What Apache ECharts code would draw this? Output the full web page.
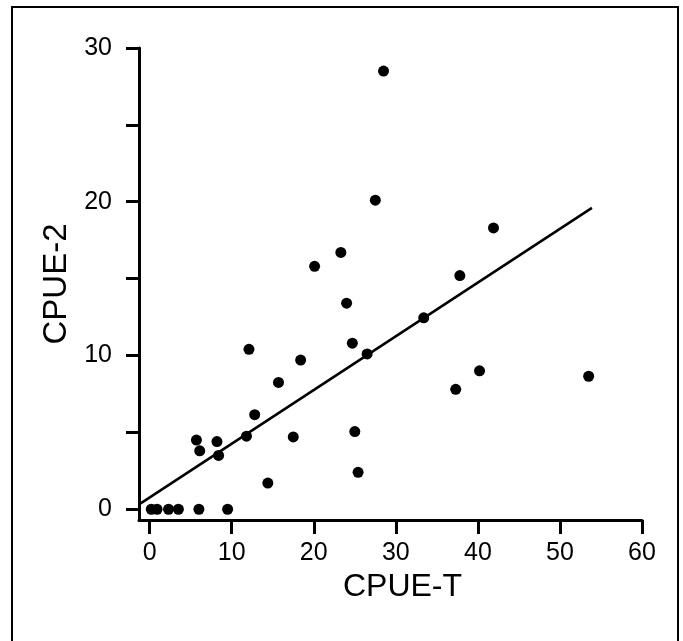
<!DOCTYPE html>
<html>
<head>
<meta charset="utf-8">
<script src="https://cdn.jsdelivr.net/npm/echarts@6/dist/echarts.min.js"></script>
<style>html,body{margin:0;padding:0;background:#fff}#c{width:683px;height:641px}</style>
</head>
<body>
<div id="c"></div>
<script>
const cpueT = [0.2, 0.9, 2.3, 3.5, 6.0, 9.5, 5.7, 6.1, 8.2, 8.4, 11.8, 12.1, 12.8, 14.4, 15.7, 17.5, 18.4, 20.1, 23.3, 24.0, 24.7, 25.0, 25.4, 26.5, 27.5, 28.5, 33.4, 37.3, 37.8, 40.2, 41.9, 53.5];
const cpue2 = [0, 0, 0, 0, 0, 0, 4.5, 3.8, 4.4, 3.5, 4.75, 10.4, 6.15, 1.7, 8.25, 4.7, 9.7, 15.8, 16.7, 13.4, 10.8, 5.05, 2.4, 10.1, 20.1, 28.5, 12.45, 7.8, 15.2, 9.0, 18.3, 8.65];
const fitX = [-1.1, 53.9];
const fitY = [0.38, 19.6];
const xTicks = [0, 10, 20, 30, 40, 50, 60];
const yTicks = [0, 5, 10, 15, 20, 25, 30];
const yLabels = [0, 10, 20, 30];

const font = '"Liberation Sans", Arial, sans-serif';
const chart = echarts.init(document.getElementById('c'));
chart.setOption({
  animation: false,
  backgroundColor: '#fff',
  grid: { left: 139, right: 41, top: 48, bottom: 121 },
  xAxis: {
    type: 'value', min: -1.3, max: 60,
    splitLine: { show: false },
    axisLine: { show: true, onZero: false, lineStyle: { color: '#000', width: 3 } },
    axisTick: { show: true, customValues: xTicks, length: 14, lineStyle: { color: '#000', width: 3 } },
    axisLabel: { customValues: xTicks, margin: 21, color: '#000', fontSize: 25, fontFamily: font },
    name: 'CPUE-T', nameLocation: 'middle', nameGap: 42,
    nameTextStyle: { color: '#000', fontSize: 32, fontFamily: font, padding: [0, 0, 0, 24] }
  },
  yAxis: {
    type: 'value', min: -0.7, max: 30,
    splitLine: { show: false },
    axisLine: { show: true, onZero: false, lineStyle: { color: '#000', width: 3 } },
    axisTick: { show: true, customValues: yTicks, length: 13, lineStyle: { color: '#000', width: 3 } },
    axisLabel: { customValues: yLabels, margin: 27, color: '#000', fontSize: 25, fontFamily: font, padding: [0, 0, 18, 0] },
    name: 'CPUE-2', nameLocation: 'middle', nameGap: 60,
    nameTextStyle: { color: '#000', fontSize: 33, fontFamily: font }
  },
  graphic: [{
    type: 'rect', shape: { x: 12, y: 7, width: 666, height: 660 },
    style: { fill: 'none', stroke: '#000', lineWidth: 2 }, silent: true
  }],
  series: [{
    type: 'scatter',
    data: cpueT.map((x, i) => [x, cpue2[i]]),
    symbolSize: 11,
    itemStyle: { color: '#000', opacity: 1 }
  }, {
    type: 'line',
    data: fitX.map((x, i) => [x, fitY[i]]),
    symbol: 'none',
    lineStyle: { color: '#000', width: 2.5 }
  }]
});
</script>
</body>
</html>
